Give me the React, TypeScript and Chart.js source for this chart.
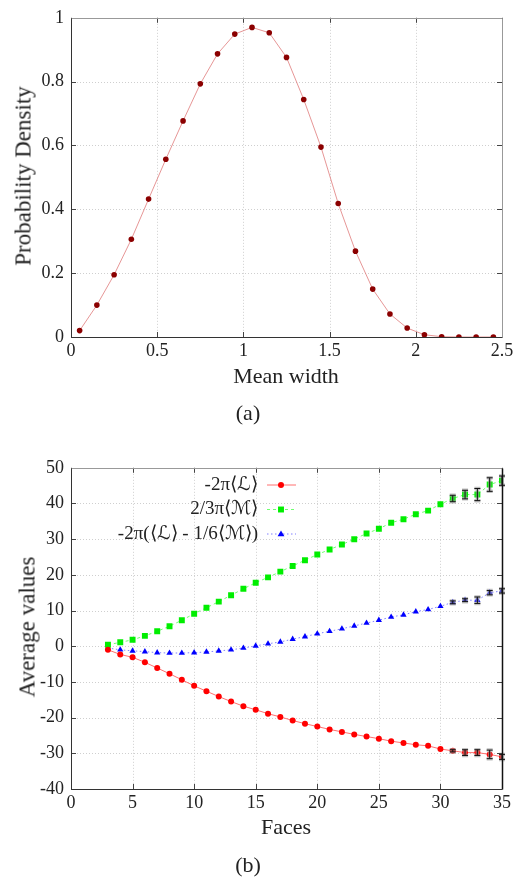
import React, { useEffect, useRef } from "react";
import { Chart, registerables } from "chart.js";
Chart.register(...registerables);

// ---------- Data: panel (a) ----------
const meanWidth = [0.05, 0.15, 0.25, 0.35, 0.45, 0.55, 0.65, 0.75, 0.85, 0.95, 1.05, 1.15, 1.25, 1.35, 1.45, 1.55, 1.65, 1.75, 1.85, 1.95, 2.05, 2.15, 2.25, 2.35, 2.45];
const density = [0.020, 0.100, 0.195, 0.306, 0.432, 0.557, 0.677, 0.793, 0.887, 0.949, 0.970, 0.953, 0.876, 0.744, 0.595, 0.418, 0.269, 0.150, 0.072, 0.028, 0.007, 0.001, 0.0, 0.0, 0.0];

// ---------- Data: panel (b) ----------
const faces = [3, 4, 5, 6, 7, 8, 9, 10, 11, 12, 13, 14, 15, 16, 17, 18, 19, 20, 21, 22, 23, 24, 25, 26, 27, 28, 29, 30, 31, 32, 33, 34, 35];
const minus2piL = [-1.0, -2.3, -3.1, -4.5, -6.1, -7.7, -9.4, -11.1, -12.6, -14.1, -15.5, -16.8, -17.8, -18.9, -19.8, -20.8, -21.7, -22.5, -23.3, -24.0, -24.7, -25.3, -25.9, -26.6, -27.1, -27.6, -27.9, -28.8, -29.3, -29.8, -29.8, -30.3, -31.0];
const twoThirdsPiM = [0.4, 1.1, 1.8, 2.9, 4.2, 5.6, 7.3, 9.1, 10.8, 12.5, 14.3, 16.1, 17.8, 19.3, 20.9, 22.5, 24.1, 25.7, 27.1, 28.5, 30.0, 31.6, 32.9, 34.6, 35.6, 37.0, 38.0, 39.8, 41.4, 42.5, 42.5, 45.3, 46.4];
const combined = [-0.5, -1.0, -1.3, -1.5, -1.8, -1.9, -1.9, -1.8, -1.6, -1.3, -1.0, -0.5, 0.1, 0.7, 1.2, 2.0, 2.7, 3.5, 4.2, 4.9, 5.7, 6.5, 7.3, 8.2, 8.8, 9.7, 10.3, 11.2, 12.3, 12.9, 12.9, 15.0, 15.5];
const errFaces = [31, 32, 33, 34, 35];
const errL = [0.3, 0.8, 0.8, 1.2, 0.7];
const errM = [0.9, 1.2, 1.7, 1.9, 1.3];
const errC = [0.4, 0.4, 0.9, 0.6, 0.6];
const legendLabels = ["-2π⟨ℒ⟩", "2/3π⟨ℳ⟩", "-2π(⟨ℒ⟩ - 1/6⟨ℳ⟩)"];

const FONT = "Liberation Serif";

const fmt = (v: any) => String(Number(Number(v).toFixed(3)));

function framePlugin(rightColor: string, rightWidth: number) {
  return {
    id: "frame",
    beforeDatasetsDraw(chart: any) {
      const { ctx, chartArea: a, scales } = chart;
      ctx.save();
      ctx.strokeStyle = "#cfcfcf";
      ctx.lineWidth = 1;
      ctx.setLineDash([1, 2]);
      const xs = scales.x, ys = scales.y;
      xs.ticks.forEach((t: any) => {
        const px = Math.round(xs.getPixelForValue(t.value)) + 0.5;
        if (px <= a.left + 1 || px >= a.right - 1) return;
        ctx.beginPath(); ctx.moveTo(px, a.top); ctx.lineTo(px, a.bottom); ctx.stroke();
      });
      ys.ticks.forEach((t: any) => {
        const py = Math.round(ys.getPixelForValue(t.value)) + 0.5;
        if (py <= a.top + 1 || py >= a.bottom - 1) return;
        ctx.beginPath(); ctx.moveTo(a.left, py); ctx.lineTo(a.right, py); ctx.stroke();
      });
      ctx.restore();
    },
    afterDraw(chart: any) {
      const { ctx, chartArea: a, scales } = chart;
      const xs = scales.x, ys = scales.y;
      ctx.save();
      ctx.setLineDash([]);
      ctx.lineWidth = 1;
      ctx.strokeStyle = "#444";
      const L = 5;
      xs.ticks.forEach((t: any) => {
        const px = Math.round(xs.getPixelForValue(t.value)) + 0.5;
        ctx.beginPath(); ctx.moveTo(px, a.bottom); ctx.lineTo(px, a.bottom - L); ctx.stroke();
        ctx.beginPath(); ctx.moveTo(px, a.top); ctx.lineTo(px, a.top + L); ctx.stroke();
      });
      ys.ticks.forEach((t: any) => {
        const py = Math.round(ys.getPixelForValue(t.value)) + 0.5;
        ctx.beginPath(); ctx.moveTo(a.left, py); ctx.lineTo(a.left + L, py); ctx.stroke();
        ctx.beginPath(); ctx.moveTo(a.right, py); ctx.lineTo(a.right - L, py); ctx.stroke();
      });
      const l = Math.round(a.left) + 0.5, r = Math.round(a.right) + 0.5;
      const t = Math.round(a.top) + 0.5, b = Math.round(a.bottom) + 0.5;
      ctx.strokeStyle = "#999";
      ctx.beginPath(); ctx.moveTo(l, t); ctx.lineTo(r, t); ctx.stroke();
      ctx.strokeStyle = rightColor; ctx.lineWidth = rightWidth;
      ctx.beginPath(); ctx.moveTo(r, t); ctx.lineTo(r, b); ctx.stroke();
      ctx.lineWidth = 1;
      ctx.strokeStyle = "#333";
      ctx.beginPath(); ctx.moveTo(l, t); ctx.lineTo(l, b); ctx.lineTo(r, b); ctx.stroke();
      ctx.restore();
    },
  };
}

function drawMarker(ctx: any, style: string, x: number, y: number, r: number, color: string) {
  ctx.fillStyle = color;
  ctx.beginPath();
  if (style === "circle") {
    ctx.arc(x, y, r, 0, Math.PI * 2);
  } else if (style === "rect") {
    const s = r * Math.SQRT1_2;
    ctx.rect(x - s, y - s, 2 * s, 2 * s);
  } else {
    ctx.moveTo(x, y - r);
    ctx.lineTo(x - r * 0.95, y + r * 0.6);
    ctx.lineTo(x + r * 0.95, y + r * 0.6);
    ctx.closePath();
  }
  ctx.fill();
}

const errorBarPlugin = {
  id: "errorBars",
  afterDatasetsDraw(chart: any) {
    const { ctx, scales } = chart;
    const xs = scales.x, ys = scales.y;
    const sets = [
      { vals: minus2piL, errs: errL },
      { vals: twoThirdsPiM, errs: errM },
      { vals: combined, errs: errC },
    ];
    ctx.save();
    sets.forEach((s) => {
      errFaces.forEach((f, i) => {
        const idx = faces.indexOf(f);
        const v = s.vals[idx];
        const e = s.errs[i];
        const px = xs.getPixelForValue(f);
        const y1 = ys.getPixelForValue(v + e);
        const y2 = ys.getPixelForValue(v - e);
        [["rgba(150,150,150,0.6)", 3.5], ["#111", 1]].forEach(([c, w]: any) => {
          ctx.strokeStyle = c; ctx.lineWidth = w;
          ctx.beginPath();
          ctx.moveTo(px, y1); ctx.lineTo(px, y2);
          ctx.moveTo(px - 3, y1); ctx.lineTo(px + 3, y1);
          ctx.moveTo(px - 3, y2); ctx.lineTo(px + 3, y2);
          ctx.stroke();
        });
      });
    });
    ctx.restore();
  },
};

const legendPlugin = {
  id: "gpLegend",
  afterDraw(chart: any) {
    const { ctx } = chart;
    const items = [
      { text: legendLabels[0], line: "#ff7070", dash: [], style: "circle", color: "#ff0000", r: 3 },
      { text: legendLabels[1], line: "#70ff70", dash: [3, 3], style: "rect", color: "#00ee00", r: 4.2 },
      { text: legendLabels[2], line: "#8080ff", dash: [1.5, 2.5], style: "triangle", color: "#0000ff", r: 3.6 },
    ];
    ctx.save();
    ctx.font = `19px ${FONT}`;
    ctx.textAlign = "right";
    ctx.textBaseline = "middle";
    items.forEach((it, i) => {
      const y = 35 + i * 24.5;
      ctx.fillStyle = "#222";
      ctx.fillText(it.text, 258, y);
      ctx.strokeStyle = it.line; ctx.lineWidth = 1; ctx.setLineDash(it.dash);
      ctx.beginPath(); ctx.moveTo(267, y); ctx.lineTo(296, y); ctx.stroke();
      ctx.setLineDash([]);
      drawMarker(ctx, it.style, 281, y, it.r, it.color);
    });
    ctx.restore();
  },
};

function fixY(width: number) {
  return (s: any) => { s.width = width; };
}
function fixX(height: number) {
  return (s: any) => { s.height = height; };
}

const tickFont = { family: FONT, size: 18 };

function useChart(ref: any, makeConfig: () => any) {
  useEffect(() => {
    let chart: any = null;
    let cancelled = false;
    const build = () => {
      if (cancelled || !ref.current) return;
      chart = new Chart(ref.current, makeConfig());
    };
    const f: any = (document as any).fonts;
    if (f && f.load) {
      Promise.all([f.load(`18px "${FONT}"`), f.load(`italic 18px "${FONT}"`)]).then(build, build);
    } else build();
    return () => {
      cancelled = true;
      if (chart) chart.destroy();
    };
  }, []);
}

function ChartA() {
  const ref = useRef<HTMLCanvasElement>(null);
  useChart(ref, () => ({
    type: "line",
    data: {
      datasets: [
        {
          data: meanWidth.map((x, i) => ({ x, y: density[i] })),
          borderColor: "#e07b7b",
          borderWidth: 0.8,
          pointBackgroundColor: "#8b0000",
          pointBorderWidth: 0,
          pointRadius: 2.8,
          tension: 0,
        },
      ],
    },
    options: {
      animation: false,
      responsive: true,
      maintainAspectRatio: false,
      layout: { padding: { left: 0, right: 30, top: 15, bottom: 0 } },
      plugins: { legend: { display: false }, tooltip: { enabled: false } },
      scales: {
        x: {
          type: "linear", min: 0, max: 2.5,
          afterFit: fixX(58),
          grid: { display: false, drawTicks: false }, border: { display: false },
          ticks: { stepSize: 0.5, font: tickFont, color: "#222", padding: 3, maxRotation: 0, callback: fmt },
        },
        y: {
          type: "linear", min: 0, max: 1,
          afterFit: fixY(71),
          grid: { display: false, drawTicks: false }, border: { display: false },
          ticks: { stepSize: 0.2, font: tickFont, color: "#222", padding: 7, callback: fmt },
        },
      },
    },
    plugins: [framePlugin("#999", 1)],
  }));
  return (
    <div style={{ position: "absolute", left: 0, top: 0, width: 532, height: 395 }}>
      <canvas ref={ref} />
    </div>
  );
}

function ChartB() {
  const ref = useRef<HTMLCanvasElement>(null);
  useChart(ref, () => ({
    type: "line",
    data: {
      datasets: [
        {
          label: legendLabels[0],
          data: faces.map((x, i) => ({ x, y: minus2piL[i] })),
          borderColor: "#ff7070", borderWidth: 1,
          pointStyle: "circle", pointRadius: 3, pointBorderWidth: 0,
          pointBackgroundColor: "#ff0000", tension: 0,
        },
        {
          label: legendLabels[1],
          data: faces.map((x, i) => ({ x, y: twoThirdsPiM[i] })),
          borderColor: "#70ff70", borderWidth: 1, borderDash: [3, 3],
          pointStyle: "rect", pointRadius: 4.2, pointBorderWidth: 0,
          pointBackgroundColor: "#00ee00", tension: 0,
        },
        {
          label: legendLabels[2],
          data: faces.map((x, i) => ({ x, y: combined[i] })),
          borderColor: "#8080ff", borderWidth: 1, borderDash: [1.5, 2.5],
          pointStyle: "triangle", pointRadius: 3.6, pointBorderWidth: 0,
          pointBackgroundColor: "#0000ff", tension: 0,
        },
      ],
    },
    options: {
      animation: false,
      responsive: true,
      maintainAspectRatio: false,
      layout: { padding: { left: 0, right: 30, top: 16, bottom: 0 } },
      plugins: { legend: { display: false }, tooltip: { enabled: false } },
      scales: {
        x: {
          type: "linear", min: 0, max: 35,
          afterFit: fixX(89),
          grid: { display: false, drawTicks: false }, border: { display: false },
          ticks: { stepSize: 5, font: tickFont, color: "#222", padding: 3, maxRotation: 0, callback: fmt },
        },
        y: {
          type: "linear", min: -40, max: 50,
          afterFit: fixY(71),
          grid: { display: false, drawTicks: false }, border: { display: false },
          ticks: { stepSize: 10, font: tickFont, color: "#222", padding: 7, callback: fmt },
        },
      },
    },
    plugins: [framePlugin("#111", 1.5), errorBarPlugin, legendPlugin],
  }));
  return (
    <div style={{ position: "absolute", left: 0, top: 450, width: 532, height: 428 }}>
      <canvas ref={ref} />
    </div>
  );
}

function Label({ text, x, y, size, rotate }: { text: string; x: number; y: number; size: number; rotate?: boolean }) {
  return (
    <div
      style={{
        position: "absolute",
        left: x,
        top: y,
        transform: `translate(-50%, -50%)${rotate ? " rotate(-90deg)" : ""}`,
        whiteSpace: "nowrap",
        fontFamily: FONT,
        fontSize: size,
        lineHeight: 1,
        color: "#222",
      }}
    >
      {text}
    </div>
  );
}

export default function App() {
  return (
    <div style={{ position: "absolute", left: 0, top: 0, width: 532, height: 878, background: "#fff" }}>
      <ChartA />
      <Label text="Probability Density" x={23} y={176} size={23} rotate />
      <Label text="Mean width" x={286} y={376} size={22} />
      <Label text="(a)" x={248} y={413} size={22} />
      <ChartB />
      <Label text="Average values" x={27} y={627} size={23} rotate />
      <Label text="Faces" x={286} y={827} size={22} />
      <Label text="(b)" x={248} y={865} size={22} />
    </div>
  );
}
